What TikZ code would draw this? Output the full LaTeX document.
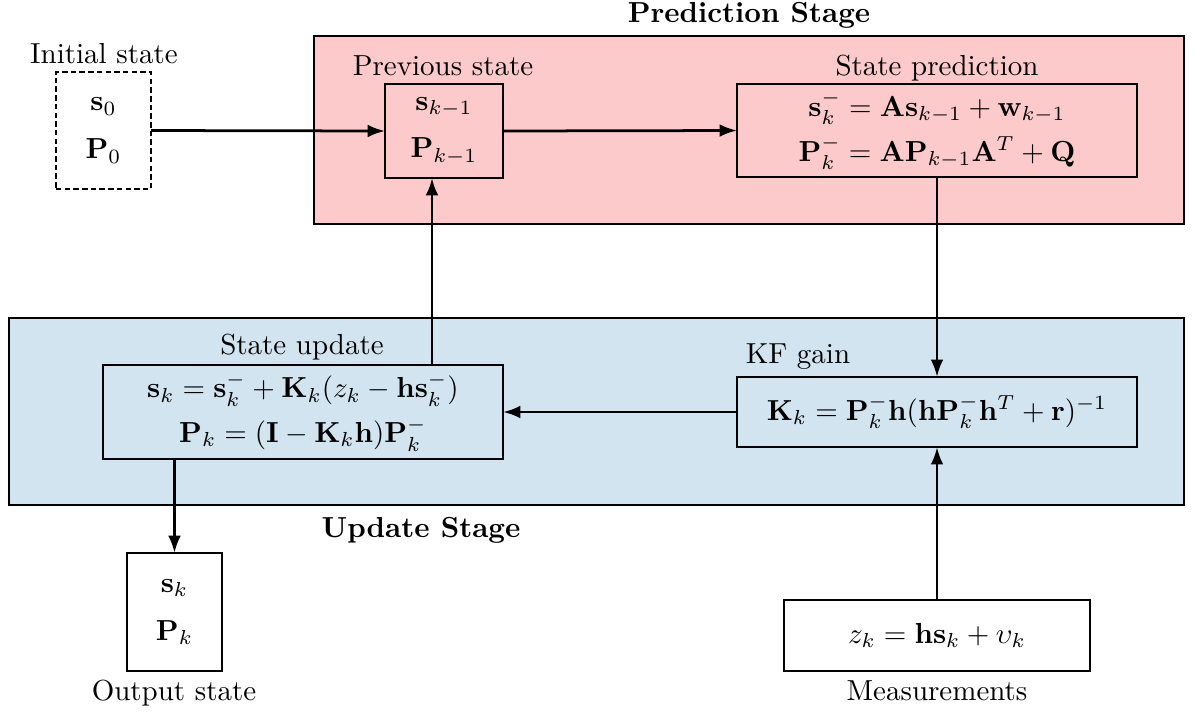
\documentclass[tikz,border=0pt]{standalone}
\usepackage{amsmath}
\usetikzlibrary{arrows.meta}
\definecolor{predfill}{RGB}{252,202,203}
\definecolor{updfill}{RGB}{209,228,239}
\tikzset{
  frame/.style={draw, line width=0.95pt, inner sep=0pt, outer sep=0pt},
  statebox/.style={frame, fill=white, align=center},
  arr/.style={line width=0.95pt, -{Latex[length=6pt,width=4.4pt]}},
  lbl/.style={anchor=base, inner sep=0pt},
}
\begin{document}
\begin{tikzpicture}[x=0.345pt, y=-0.345pt]
\useasboundingbox (0,0) rectangle (1194,713);

% stage backgrounds
\node[frame, fill=predfill, minimum width=300.2pt, minimum height=64.9pt] (pred) at (749,130) {};
\node[frame, fill=updfill, minimum width=405.4pt, minimum height=64.5pt] (upd) at (596.5,411.5) {};
\node[lbl] (predt) at (749,22) {\bfseries Prediction Stage};
\node[lbl] (updt) at (421,537) {\bfseries Update Stage};

% state boxes
\node[frame, dash pattern=on 1.9pt off 1.1pt, fill=white, align=center,
      minimum width=32.8pt, minimum height=40.4pt] (init) at (103.5,130.5)
      {$\mathbf{s}_0$\\[4.5pt]$\mathbf{P}_0$};
\node[statebox, fill=predfill, minimum width=40.7pt, minimum height=32.4pt] (prev) at (444,131)
      {$\mathbf{s}_{k-1}$\\[4.5pt]$\mathbf{P}_{k-1}$};
\node[statebox, fill=predfill, minimum width=138pt, minimum height=32.1pt] (spred) at (937,130.5)
      {$\mathbf{s}_k^- = \mathbf{A}\mathbf{s}_{k-1} + \mathbf{w}_{k-1}$\\[3.5pt]
       $\mathbf{P}_k^- = \mathbf{A}\mathbf{P}_{k-1}\mathbf{A}^T + \mathbf{Q}$};
\node[statebox, fill=updfill, minimum width=138pt, minimum height=24.2pt] (gain) at (937,412)
      {$\mathbf{K}_k = \mathbf{P}_k^-\mathbf{h}(\mathbf{h}\mathbf{P}_k^-\mathbf{h}^T + \mathbf{r})^{-1}$};
\node[statebox, fill=updfill, minimum width=138pt, minimum height=32.4pt] (supd) at (303,412)
      {$\mathbf{s}_k = \mathbf{s}_k^- + \mathbf{K}_k(z_k - \mathbf{h}\mathbf{s}_k^-)$\\[3.5pt]
       $\mathbf{P}_k = (\mathbf{I} - \mathbf{K}_k\mathbf{h})\mathbf{P}_k^-$};
\node[statebox, minimum width=32.8pt, minimum height=40.7pt] (out) at (174.5,612)
      {$\mathbf{s}_k$\\[4.5pt]$\mathbf{P}_k$};
\node[statebox, minimum width=105.6pt, minimum height=24.5pt] (meas) at (937,635.5)
      {$z_k = \mathbf{h}\mathbf{s}_k + \upsilon_k$};

% box captions
\node[lbl] (initl) at (104,63) {Initial state};
\node[lbl] (prevl) at (443,75) {Previous state};
\node[lbl] (spredl) at (937,75) {State prediction};
\node[lbl] (gainl) at (798,363) {KF gain};
\node[lbl] (supdl) at (302,354) {State update};
\node[lbl] (outl) at (174,700) {Output state};
\node[lbl] (measl) at (937,700) {Measurements};

% flow
\coordinate (fb) at (432,0);
\draw[arr] (init.east) -- (prev.west);
\draw[arr] (prev.east) -- (spred.west);
\draw[arr] (spred.south) -- (gain.north);
\draw[arr] (gain.west) -- (supd.east);
\draw[arr] (supd.north -| fb) -- (prev.south -| fb);
\draw[arr] (supd.south -| out.north) -- (out.north);
\draw[arr] (meas.north) -- (gain.south);
\end{tikzpicture}
\end{document}
